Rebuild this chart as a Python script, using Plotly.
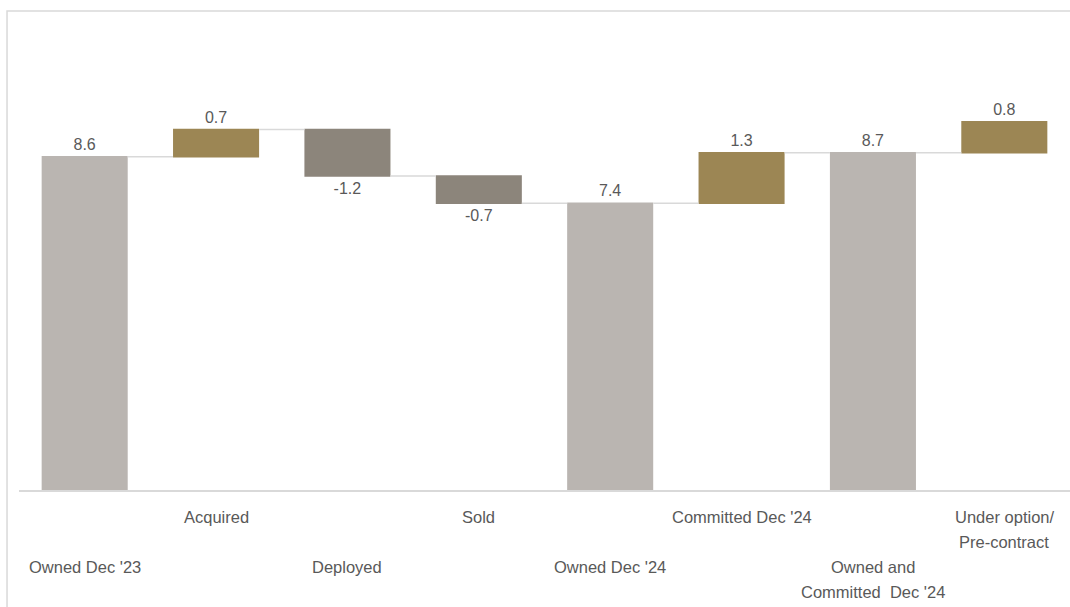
import plotly.graph_objects as go

categories = ["Owned Dec '23", "Acquired", "Deployed", "Sold", "Owned Dec '24",
              "Committed Dec '24", "Owned and<br>Committed  Dec '24", "Under option/<br>Pre-contract"]
measures = ["absolute", "relative", "relative", "relative", "total", "relative", "total", "relative"]
values = [8.6, 0.7, -1.2, -0.7, 0, 1.3, 0, 0.8]
labels = ["8.6", "0.7", "-1.2", "-0.7", "7.4", "1.3", "8.7", "0.8"]
label_rows = [2, 0, 2, 0, 2, 0, 2, 0]  # line offset for category labels

TOTAL_C = "#BAB5B1"
UP_C = "#9C8654"
DOWN_C = "#8C857B"
TEXT_C = "#595959"
LINE_C = "#D9D9D9"
FONT = "Liberation Sans"

x = list(range(len(categories)))

fig = go.Figure(go.Waterfall(
    x=x,
    y=values,
    measure=measures,
    text=labels,
    textposition="outside",
    textfont=dict(family=FONT, size=16, color=TEXT_C),
    increasing=dict(marker=dict(color=UP_C, line=dict(width=0))),
    decreasing=dict(marker=dict(color=DOWN_C, line=dict(width=0))),
    totals=dict(marker=dict(color=TOTAL_C, line=dict(width=0))),
    connector=dict(mode="between", line=dict(color=LINE_C, width=1.5)),
    width=0.655,
    cliponaxis=False,
    showlegend=False,
))

# category labels below the axis
for i, (cat, row) in enumerate(zip(categories, label_rows)):
    for j, line in enumerate(cat.split("<br>")):
        fig.add_annotation(
            x=i, y=0, xref="x", yref="paper",
            text=line, showarrow=False,
            xanchor="center", yanchor="middle",
            yshift=-(27 + 25 * (row + j)),
            font=dict(family=FONT, size=16.5, color=TEXT_C),
        )

# outer frame
fig.add_shape(type="rect", xref="paper", yref="paper",
              x0=-0.0114, x1=1.05, y0=-0.5, y1=1.0,
              line=dict(color=LINE_C, width=1.5), fillcolor="rgba(0,0,0,0)", layer="below")

fig.update_layout(
    width=1070, height=607,
    margin=dict(l=19, r=0, t=11, b=117),
    paper_bgcolor="white", plot_bgcolor="white",
    xaxis=dict(range=[-0.5, 7.5], showticklabels=False, showgrid=False, zeroline=False,
               showline=True, linecolor=LINE_C, linewidth=1.5, ticks=""),
    yaxis=dict(range=[0, 12.36], visible=False, showgrid=False, zeroline=False),
    font=dict(family=FONT, color=TEXT_C),
)

fig.write_html("out.html")
